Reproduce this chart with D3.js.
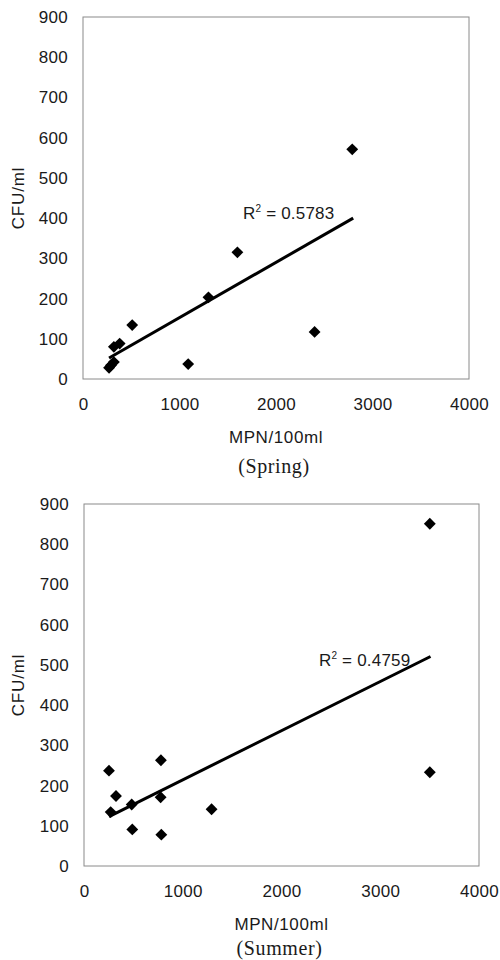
<html><head>
<meta charset="utf-8">
<script src="https://d3js.org/d3.v7.min.js"></script>
<style>
body { margin:0; background:#fff; }
text { font-family: "Liberation Sans", Arial, sans-serif; fill:#1a1a1a; }
</style>
</head>
<body>
<script>
// spring data
springMPN = [270, 290, 320, 320, 380, 510, 1090, 1300, 1600, 2400, 2790];
springCFU = [28, 34, 42, 80, 88, 134, 37, 203, 315, 117, 571];
springTrend = {slope: 0.1375, icept: 15, from: 270, to: 2800};
springR2 = "0.5783";

// summer data
summerMPN = [253, 270, 324, 483, 489, 776, 779, 783, 1292, 3502, 3502];
summerCFU = [237, 134, 174, 153, 91, 171, 263, 78, 141, 233, 851];
summerTrend = {slope: 0.1222, icept: 92, from: 253, to: 3509};
summerR2 = "0.4759";

xTicks = [0, 1000, 2000, 3000, 4000];
yTicks = [0, 100, 200, 300, 400, 500, 600, 700, 800, 900];

svg = d3.select("body").append("svg")
  .attr("width", 500)
  .attr("height", 960);

panel = function panel(cfg) {
  var x = d3.scaleLinear().domain([0, 4000]).range([cfg.left, cfg.right]);
  var y = d3.scaleLinear().domain([0, 900]).range([cfg.bottom, cfg.top]);
  var g = svg.append("g");

  // plot frame
  g.append("rect")
    .attr("x", cfg.left).attr("y", cfg.top)
    .attr("width", cfg.right - cfg.left).attr("height", cfg.bottom - cfg.top)
    .attr("fill", "none").attr("stroke", "#8a8a8a").attr("stroke-width", 1);

  var xa = g.append("g").attr("transform", "translate(0," + cfg.bottom + ")")
    .call(d3.axisBottom(x).tickValues(xTicks).tickSize(0).tickPadding(19).tickFormat(d3.format("d")));
  var ya = g.append("g").attr("transform", "translate(" + cfg.left + ",0)")
    .call(d3.axisLeft(y).tickValues(yTicks).tickSize(0).tickPadding(15).tickFormat(d3.format("d")));
  [xa, ya].forEach(function(a) {
    a.select(".domain").remove();
    a.selectAll("text").attr("font-size", 17).attr("fill", "#1a1a1a")
      .attr("letter-spacing", 0.3)
      .style("font-family", '"Liberation Sans", Arial, sans-serif');
  });

  // trend line
  var t = cfg.trend;
  g.append("line")
    .attr("x1", x(t.from)).attr("y1", y(t.slope * t.from + t.icept))
    .attr("x2", x(t.to)).attr("y2", y(t.slope * t.to + t.icept))
    .attr("stroke", "#000").attr("stroke-width", 3);

  // diamonds
  var sym = d3.symbol().type(d3.symbolSquare).size(70);
  g.selectAll("path.pt")
    .data(d3.range(cfg.mpn.length))
    .enter().append("path")
    .attr("class", "pt")
    .attr("d", sym)
    .attr("transform", function(i) { return "translate(" + x(cfg.mpn[i]) + "," + y(cfg.cfu[i]) + ") rotate(45)"; })
    .attr("fill", "#000");

  // R2 label
  var r = g.append("text")
    .attr("x", x(cfg.r2x)).attr("y", y(cfg.r2y) + 6)
    .attr("font-size", 17).attr("letter-spacing", 0.2);
  r.append("tspan").text("R");
  r.append("tspan").attr("font-size", 10).attr("dy", -7).text("2");
  r.append("tspan").attr("dy", 7).text(" = " + cfg.r2);

  // axis titles
  g.append("text")
    .attr("transform", "translate(24," + ((cfg.top + cfg.bottom) / 2) + ") rotate(-90)")
    .attr("text-anchor", "middle").attr("font-size", 17).attr("letter-spacing", 0.8)
    .text("CFU/ml");
  g.append("text")
    .attr("x", (cfg.left + cfg.right) / 2).attr("y", cfg.bottom + 64)
    .attr("text-anchor", "middle").attr("font-size", 17).attr("letter-spacing", 0.6)
    .text("MPN/100ml");
  g.append("text")
    .attr("x", (cfg.left + cfg.right) / 2 - 2).attr("y", cfg.bottom + cfg.seasonDy)
    .attr("text-anchor", "middle").attr("font-size", 20).attr("letter-spacing", 0.6)
    .style("font-family", '"Liberation Serif", "Times New Roman", serif')
    .text(cfg.season);
};

panel({left: 83, right: 469, top: 17, bottom: 379,
  mpn: springMPN, cfu: springCFU, trend: springTrend, r2: springR2,
  r2x: 1658, r2y: 413, season: "(Spring)", seasonDy: 94});

panel({left: 84, right: 479, top: 504, bottom: 866,
  mpn: summerMPN, cfu: summerCFU, trend: summerTrend, r2: summerR2,
  r2x: 2379, r2y: 512, season: "(Summer)", seasonDy: 89});
</script>
</body></html>
